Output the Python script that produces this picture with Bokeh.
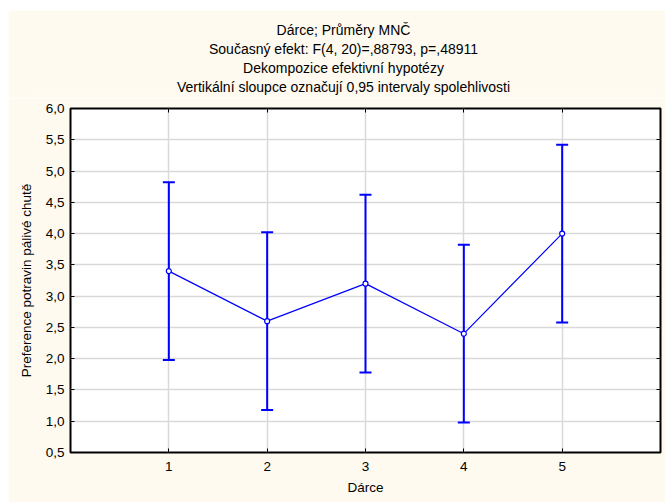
from bokeh.plotting import figure
from bokeh.models import (ColumnDataSource, Whisker, TeeHead, FixedTicker, LinearAxis,
                          Title, Range1d, Spacer)
from bokeh.layouts import column, row
from bokeh.embed import file_html
from bokeh.resources import INLINE

# ---- data ----
groups = [1, 2, 3, 4, 5]
means = [3.4, 2.6, 3.2, 2.4, 4.0]
lower = [1.98, 1.18, 1.78, 0.98, 2.58]
upper = [4.82, 4.02, 4.62, 3.82, 5.42]
y_ticks = [0.5, 1.0, 1.5, 2.0, 2.5, 3.0, 3.5, 4.0, 4.5, 5.0, 5.5, 6.0]
title_lines = [
    "Dárce; Průměry MNČ",
    "Současný efekt: F(4, 20)=,88793, p=,48911",
    "Dekompozice efektivní hypotézy",
    "Vertikální sloupce označují 0,95 intervaly spolehlivosti",
]
x_label = "Dárce"
y_label = "Preference potravin pálivé chutě"

FONT = "Liberation Sans"
BG = "#fefaf0"
BLUE = "#0000ff"
GRID = "#d9d9d9"

# ---- title block (separate figure so the text can be centred like the original) ----
t = figure(width=657, height=88, output_backend="svg", toolbar_location=None,
           x_axis_type=None, y_axis_type=None, x_range=Range1d(0, 1), y_range=Range1d(0, 1),
           min_border_left=20, min_border_right=7, min_border_top=85, min_border_bottom=0,
           background_fill_color=BG, border_fill_color=BG, outline_line_color=None)
t.grid.visible = False
for txt in reversed(title_lines):
    t.add_layout(Title(text=txt, align="center", text_font=FONT, text_font_size="14px",
                       text_font_style="normal", text_color="black", standoff=1), "above")

# ---- main chart ----
src = ColumnDataSource(dict(x=groups, m=means, lo=lower, hi=upper))

p = figure(width=657, height=404, output_backend="svg", toolbar_location=None,
           x_range=Range1d(0, 6), y_range=Range1d(0.5, 6.0),
           min_border_left=62, min_border_right=5, min_border_top=10, min_border_bottom=50,
           background_fill_color="white", border_fill_color=BG)
p.outline_line_color = "black"
p.outline_line_width = 2

p.xaxis.ticker = FixedTicker(ticks=groups)
p.yaxis.ticker = FixedTicker(ticks=y_ticks)
p.yaxis.major_label_overrides = {v: f"{v:.1f}".replace(".", ",") for v in y_ticks}
for ax in (p.xaxis[0], p.yaxis[0]):
    ax.axis_line_color = None
    ax.major_tick_in = 4
    ax.major_tick_out = 0
    ax.minor_tick_line_color = None
    ax.major_tick_line_color = "black"
    ax.major_label_text_font = FONT
    ax.major_label_text_font_size = "13.5px"
    ax.major_label_text_color = "black"
    ax.axis_label_text_font = FONT
    ax.axis_label_text_font_size = "13.5px"
    ax.axis_label_text_font_style = "normal"
    ax.axis_label_text_color = "black"
p.xaxis.axis_label = x_label
p.yaxis.axis_label = y_label
p.xaxis.major_label_standoff = 9
p.xaxis.axis_label_standoff = 6
p.yaxis.major_label_standoff = 6
p.yaxis.axis_label_standoff = 9

for side, tk in (("right", y_ticks), ("above", groups)):
    ax = LinearAxis(ticker=FixedTicker(ticks=tk), axis_line_color=None,
                    major_tick_in=4, major_tick_out=0, minor_tick_line_color=None,
                    major_label_overrides={v: "" for v in tk},
                    major_label_text_font_size="1px", major_label_standoff=0)
    p.add_layout(ax, side)

p.xgrid.ticker = FixedTicker(ticks=groups)
p.ygrid.ticker = FixedTicker(ticks=y_ticks)
p.grid.grid_line_color = GRID
p.grid.grid_line_width = 1.5

p.add_layout(Whisker(source=src, base="x", lower="lo", upper="hi", dimension="height",
                     line_color=BLUE, line_width=2,
                     lower_head=TeeHead(size=12, line_color=BLUE, line_width=2),
                     upper_head=TeeHead(size=12, line_color=BLUE, line_width=2)))
p.line("x", "m", source=src, line_color=BLUE, line_width=1.2)
p.scatter("x", "m", source=src, size=5, marker="circle", line_color=BLUE,
          fill_color="white", line_width=1.2)

layout = column(Spacer(height=10), row(Spacer(width=8), t), row(Spacer(width=8), p))
open("out.html", "w").write(file_html(layout, INLINE))
